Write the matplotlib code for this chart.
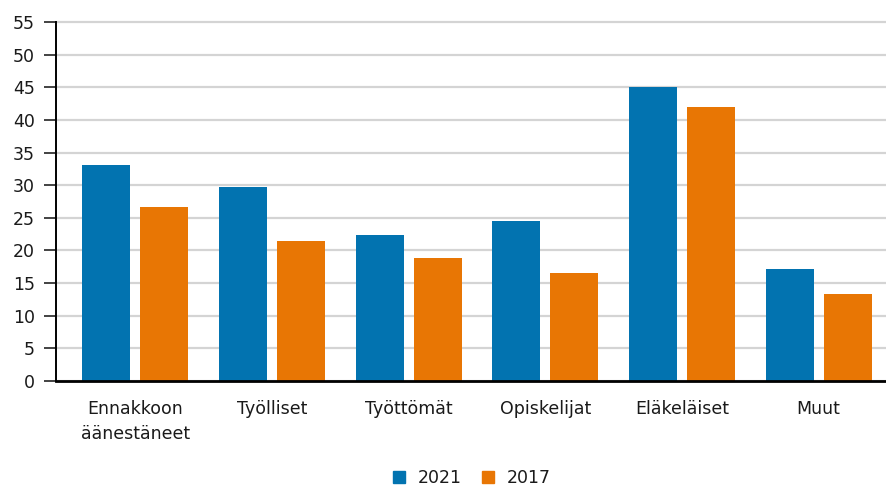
import numpy as np
import matplotlib.pyplot as plt
from matplotlib.patches import Patch

categories = ['Ennakkoon\näänestäneet', 'Työlliset', 'Työttömät', 'Opiskelijat', 'Eläkeläiset', 'Muut']
values_2021 = [33.1, 29.7, 22.4, 24.5, 45.1, 17.2]
values_2017 = [26.6, 21.4, 18.8, 16.6, 42.0, 13.3]
series_names = ['2021', '2017']
yticks = list(range(0, 56, 5))

blue = '#0273b0'
orange = '#e87604'

plt.rcParams['font.family'] = ['DejaVu Sans']

fig = plt.figure(figsize=(8.87, 4.87), dpi=100)
ax = fig.add_axes([0.0631, 0.2177, 0.9369, 0.7371])

x = np.arange(len(categories))
w = 0.35
off = 0.212
ax.bar(x - off, values_2021, w, color=blue, zorder=3)
ax.bar(x + off, values_2017, w, color=orange, zorder=3)

ax.set_xlim(-0.58, 5.5)
ax.set_ylim(0, 55)
ax.set_yticks(yticks)
ax.set_xticks(x)
ax.set_xticklabels(categories, fontsize=12.5, linespacing=1.5, va='top', color='#1a1a1a')
ax.tick_params(axis='x', length=0, pad=14)
ax.tick_params(axis='y', length=9, width=1.2, pad=6, labelsize=12.5, color='#222222', labelcolor='#1a1a1a')

ax.yaxis.grid(True, color='#d4d4d4', linewidth=1.6, zorder=0)
for gl in ax.get_ygridlines():
    gl.set_clip_on(False)
for s in ['top', 'right']:
    ax.spines[s].set_visible(False)
ax.spines['left'].set_linewidth(1.4)
ax.spines['left'].set_zorder(4)
ax.spines['bottom'].set_linewidth(2)
ax.spines['bottom'].set_zorder(4)

handles = [Patch(color=blue, label=series_names[0]), Patch(color=orange, label=series_names[1])]
fig.legend(handles=handles, loc='center', bbox_to_anchor=(0.532, 0.018), ncol=2, frameon=False,
           fontsize=12.5, handlelength=0.7, handleheight=0.7, handletextpad=0.7, columnspacing=1.2,
           labelcolor='#1a1a1a')

fig.savefig('out.png', dpi=100)
